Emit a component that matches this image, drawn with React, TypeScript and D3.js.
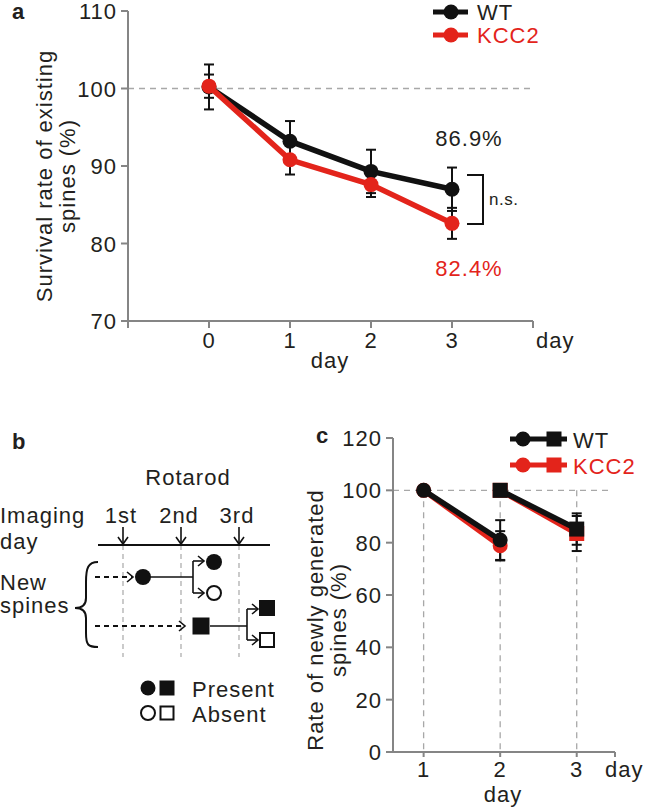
import React from "react";
import * as d3 from "d3";

// panel a: survival of existing spines
const daysA = [0, 1, 2, 3];
const wtSurvival = [100.2, 93.2, 89.3, 87.0];
const wtSurvivalErr = [2.9, 2.6, 2.8, 2.8];
const kccSurvival = [100.3, 90.8, 87.6, 82.6];
const kccSurvivalErr = [1.5, 1.9, 1.6, 2.0];
const yTicksA = [70, 80, 90, 100, 110];
const xTicksA = [-1, 0, 1, 2, 3, 4];
const xLabelsA = [0, 1, 2, 3];

// panel c: newly generated spines (circles: born day 1, squares: born day 2)
const circleDays = [1, 2];
const squareDays = [2, 3];
const wtCircle = [100, 81.0];
const wtCircleErr = [0, 7.6];
const kccCircle = [100, 78.8];
const kccCircleErr = [0, 5.6];
const wtSquare = [100, 85.2];
const wtSquareErr = [0, 6.0];
const kccSquare = [100, 83.5];
const kccSquareErr = [0, 6.7];
const yTicksC = [0, 20, 40, 60, 80, 100, 120];
const xTicksC = [1, 2, 3];

const RED = "#e3241b";
const BLK = "#111";
const TXT = "#231f20";
const AXIS = "#858585";
const DASH = "#a8a8a8";
const FONT = "'Liberation Sans', Arial, Helvetica, sans-serif";

const txt = { fontFamily: FONT, fontSize: 22, letterSpacing: 1, fill: TXT };

const xA = d3.scaleLinear().domain([-1, 4]).range([128, 533]);
const yA = d3.scaleLinear().domain([70, 110]).range([321, 11]);
const xC = d3.scaleLinear().domain([0.6, 3.5]).range([393, 615]);
const yC = d3.scaleLinear().domain([0, 120]).range([752, 438]);
// imaging days for the schematic
const xB = d3.scaleLinear().domain([1, 3]).range([123, 239]);

const lineA = d3.line<number>().x((_, i) => xA(daysA[i])).y(v => yA(v));

function ErrBars({ xs, ys, errs, x, y, cap = 5 }) {
  return (
    <g stroke={BLK} strokeWidth={2}>
      {ys.map((v, i) =>
        errs[i] > 0 ? (
          <g key={i}>
            <line x1={x(xs[i])} x2={x(xs[i])} y1={y(v + errs[i])} y2={y(v - errs[i])} />
            <line x1={x(xs[i]) - cap} x2={x(xs[i]) + cap} y1={y(v + errs[i])} y2={y(v + errs[i])} />
            <line x1={x(xs[i]) - cap} x2={x(xs[i]) + cap} y1={y(v - errs[i])} y2={y(v - errs[i])} />
          </g>
        ) : null
      )}
    </g>
  );
}

function Square({ cx, cy, s, fill, stroke = "none", sw = 0 }) {
  return <rect x={cx - s / 2} y={cy - s / 2} width={s} height={s} fill={fill} stroke={stroke} strokeWidth={sw} />;
}

function PanelA() {
  return (
    <g>
      <text x={12} y={19} style={{ ...txt, fontWeight: "bold", letterSpacing: 0 }}>a</text>
      {/* dashed 100% */}
      <line x1={128} x2={533} y1={yA(100)} y2={yA(100)} stroke={DASH} strokeWidth={1.3} strokeDasharray="6,5" />
      {/* axes */}
      <g stroke={AXIS} strokeWidth={2}>
        <line x1={128} x2={128} y1={yA(110)} y2={yA(70)} />
        <line x1={128} x2={533} y1={yA(70)} y2={yA(70)} />
        {yTicksA.map(t => <line key={t} x1={121} x2={128} y1={yA(t)} y2={yA(t)} />)}
        {xTicksA.map(t => <line key={t} x1={xA(t)} x2={xA(t)} y1={yA(70)} y2={yA(70) + 7} />)}
      </g>
      {yTicksA.map(t => (
        <text key={t} x={117} y={yA(t) + 8} textAnchor="end" style={txt}>{t}</text>
      ))}
      {xLabelsA.map(t => (
        <text key={t} x={xA(t)} y={348} textAnchor="middle" style={txt}>{t}</text>
      ))}
      <text x={536} y={348} style={txt}>day</text>
      <text x={330} y={368} textAnchor="middle" style={txt}>day</text>
      <text transform="translate(52,176) rotate(-90)" textAnchor="middle" style={txt}>Survival rate of existing</text>
      <text transform="translate(75,176) rotate(-90)" textAnchor="middle" style={txt}>spines (%)</text>

      <ErrBars xs={daysA} ys={wtSurvival} errs={wtSurvivalErr} x={xA} y={yA} />
      <ErrBars xs={daysA} ys={kccSurvival} errs={kccSurvivalErr} x={xA} y={yA} />

      <path d={lineA(wtSurvival)} fill="none" stroke={BLK} strokeWidth={5.5} />
      {wtSurvival.map((v, i) => <circle key={i} cx={xA(daysA[i])} cy={yA(v)} r={7.5} fill={BLK} />)}
      <path d={lineA(kccSurvival)} fill="none" stroke={RED} strokeWidth={5.5} />
      {kccSurvival.map((v, i) => <circle key={i} cx={xA(daysA[i])} cy={yA(v)} r={7.5} fill={RED} />)}

      {/* legend */}
      <line x1={433} x2={468} y1={12} y2={12} stroke={BLK} strokeWidth={5} />
      <circle cx={451} cy={12} r={7.5} fill={BLK} />
      <text x={477} y={20} style={txt}>WT</text>
      <line x1={433} x2={468} y1={35} y2={35} stroke={RED} strokeWidth={5} />
      <circle cx={451} cy={35} r={7.5} fill={RED} />
      <text x={477} y={43} style={{ ...txt, fill: RED }}>KCC2</text>

      {/* annotations */}
      <text x={469} y={146} textAnchor="middle" style={txt}>86.9%</text>
      <text x={469} y={276} textAnchor="middle" style={{ ...txt, fill: RED }}>82.4%</text>
      <path d="M467,175 H483 V224 H467" fill="none" stroke={BLK} strokeWidth={2} />
      <text x={489} y={205} style={{ ...txt, fontSize: 17, letterSpacing: 0.5 }}>n.s.</text>
    </g>
  );
}

function PanelB() {
  const lineY = 545;
  const row1 = 577;
  const row2 = 626;
  const head = (x, y) => `M${x - 6},${y - 5} L${x},${y} L${x - 6},${y + 5}`;
  return (
    <g>
      <text x={12} y={449} style={{ ...txt, fontWeight: "bold", letterSpacing: 0 }}>b</text>
      <text x={188} y={485} textAnchor="middle" style={txt}>Rotarod</text>
      <text x={0} y={523} style={txt}>Imaging</text>
      <text x={0} y={549} style={txt}>day</text>
      {["1st", "2nd", "3rd"].map((s, i) => (
        <text key={s} x={xB(i + 1) - 2} y={523} textAnchor="middle" style={txt}>{s}</text>
      ))}
      <text x={0} y={590} style={txt}>New</text>
      <text x={0} y={613} style={txt}>spines</text>

      {/* imaging-day arrows and dashed guides */}
      {[1, 2, 3].map(d => (
        <g key={d}>
          <line x1={xB(d)} x2={xB(d)} y1={lineY} y2={657} stroke={DASH} strokeWidth={1.2} strokeDasharray="5,4" />
          <line x1={xB(d)} x2={xB(d)} y1={527} y2={lineY - 1} stroke={BLK} strokeWidth={1.6} />
          <path d={`M${xB(d) - 5},${lineY - 8} L${xB(d)},${lineY - 1} L${xB(d) + 5},${lineY - 8}`} fill="none" stroke={BLK} strokeWidth={1.6} />
        </g>
      ))}
      <line x1={98} x2={270} y1={lineY} y2={lineY} stroke={BLK} strokeWidth={2} />

      {/* brace */}
      <path d="M98,562 C88,562 86,568 86,582 L86,598 C86,605 82,608 75,608 C82,608 86,611 86,618 L86,633 C86,645 88,647 98,647" fill="none" stroke={BLK} strokeWidth={2} />

      <g fill="none" stroke={BLK} strokeWidth={1.6}>
        {/* row 1 */}
        <line x1={95} x2={132} y1={row1} y2={row1} strokeDasharray="5,4" strokeWidth={2} />
        <path d={head(133, row1)} />
        <line x1={150} x2={193} y1={row1} y2={row1} />
        <line x1={193} x2={193} y1={561} y2={593} />
        <line x1={193} x2={203} y1={561} y2={561} />
        <path d={head(204, 561)} />
        <line x1={193} x2={203} y1={593} y2={593} />
        <path d={head(204, 593)} />
        {/* row 2 */}
        <line x1={95} x2={184} y1={row2} y2={row2} strokeDasharray="5,4" strokeWidth={2} />
        <path d={head(185, row2)} />
        <line x1={210} x2={247} y1={row2} y2={row2} />
        <line x1={247} x2={247} y1={609} y2={640} />
        <line x1={247} x2={257} y1={609} y2={609} />
        <path d={head(258, 609)} />
        <line x1={247} x2={257} y1={640} y2={640} />
        <path d={head(258, 640)} />
      </g>
      <circle cx={143} cy={row1} r={8} fill={BLK} />
      <circle cx={214} cy={562} r={8} fill={BLK} />
      <circle cx={214} cy={593} r={7} fill="#fff" stroke={BLK} strokeWidth={2} />
      <Square cx={201} cy={row2} s={17} fill={BLK} />
      <Square cx={267} cy={608} s={16} fill={BLK} />
      <Square cx={267} cy={640} s={14} fill="#fff" stroke={BLK} sw={2} />

      {/* key */}
      <circle cx={148} cy={688} r={7.5} fill={BLK} />
      <Square cx={167} cy={688} s={15} fill={BLK} />
      <text x={192} y={697} style={txt}>Present</text>
      <circle cx={148} cy={713} r={7} fill="#fff" stroke={BLK} strokeWidth={2} />
      <Square cx={167} cy={713} s={13} fill="#fff" stroke={BLK} sw={2} />
      <text x={192} y={722} style={txt}>Absent</text>
    </g>
  );
}

function PanelC() {
  const circLine = d3.line<number>().x((_, i) => xC(circleDays[i])).y(v => yC(v));
  const sqLine = d3.line<number>().x((_, i) => xC(squareDays[i])).y(v => yC(v));
  return (
    <g>
      <text x={316} y={443} style={{ ...txt, fontWeight: "bold", letterSpacing: 0 }}>c</text>
      <line x1={393} x2={608} y1={yC(100)} y2={yC(100)} stroke={DASH} strokeWidth={1.3} strokeDasharray="6,5" />
      {xTicksC.map(t => (
        <line key={t} x1={xC(t)} x2={xC(t)} y1={yC(100)} y2={yC(0)} stroke={DASH} strokeWidth={1.3} strokeDasharray="6,5" />
      ))}
      <g stroke={AXIS} strokeWidth={2}>
        <line x1={393} x2={393} y1={yC(120)} y2={yC(0)} />
        <line x1={393} x2={615} y1={yC(0)} y2={yC(0)} />
        {yTicksC.map(t => <line key={t} x1={386} x2={393} y1={yC(t)} y2={yC(t)} />)}
        {[...xTicksC, 3.5].map(t => <line key={t} x1={xC(t)} x2={xC(t)} y1={yC(0)} y2={yC(0) + 5} />)}
      </g>
      {yTicksC.map(t => (
        <text key={t} x={382} y={yC(t) + 8} textAnchor="end" style={txt}>{t}</text>
      ))}
      {xTicksC.map(t => (
        <text key={t} x={xC(t)} y={777} textAnchor="middle" style={txt}>{t}</text>
      ))}
      <text x={605} y={777} style={txt}>day</text>
      <text x={503} y={802} textAnchor="middle" style={txt}>day</text>
      <text transform="translate(323,620) rotate(-90)" textAnchor="middle" style={txt}>Rate of newly generated</text>
      <text transform="translate(346,620) rotate(-90)" textAnchor="middle" style={txt}>spines (%)</text>

      <ErrBars xs={circleDays} ys={kccCircle} errs={kccCircleErr} x={xC} y={yC} />
      <ErrBars xs={circleDays} ys={wtCircle} errs={wtCircleErr} x={xC} y={yC} />
      <ErrBars xs={squareDays} ys={kccSquare} errs={kccSquareErr} x={xC} y={yC} />
      <ErrBars xs={squareDays} ys={wtSquare} errs={wtSquareErr} x={xC} y={yC} />

      {/* KCC2 underneath */}
      <path d={circLine(kccCircle)} fill="none" stroke={RED} strokeWidth={5.5} />
      {kccCircle.map((v, i) => <circle key={i} cx={xC(circleDays[i])} cy={yC(v)} r={7.5} fill={RED} />)}
      <path d={sqLine(kccSquare)} fill="none" stroke={RED} strokeWidth={5.5} />
      {kccSquare.map((v, i) => <Square key={i} cx={xC(squareDays[i])} cy={yC(v)} s={15} fill={RED} />)}

      <path d={circLine(wtCircle)} fill="none" stroke={BLK} strokeWidth={5.5} />
      {wtCircle.map((v, i) => <circle key={i} cx={xC(circleDays[i])} cy={yC(v)} r={7.5} fill={BLK} />)}
      <path d={sqLine(wtSquare)} fill="none" stroke={BLK} strokeWidth={5.5} />
      {wtSquare.map((v, i) => <Square key={i} cx={xC(squareDays[i])} cy={yC(v)} s={15} fill={BLK} />)}

      {/* legend */}
      <line x1={510} x2={567} y1={439} y2={439} stroke={BLK} strokeWidth={5} />
      <circle cx={523} cy={439} r={7.5} fill={BLK} />
      <Square cx={554} cy={439} s={15} fill={BLK} />
      <text x={573} y={448} style={txt}>WT</text>
      <line x1={510} x2={567} y1={465} y2={465} stroke={RED} strokeWidth={5} />
      <circle cx={523} cy={465} r={7.5} fill={RED} />
      <Square cx={554} cy={465} s={15} fill={RED} />
      <text x={573} y={474} style={{ ...txt, fill: RED }}>KCC2</text>
    </g>
  );
}

export default function App() {
  return (
    <svg width={646} height={811} style={{ position: "absolute", left: 0, top: 0, background: "#fff" }}>
      <PanelA />
      <PanelB />
      <PanelC />
    </svg>
  );
}
